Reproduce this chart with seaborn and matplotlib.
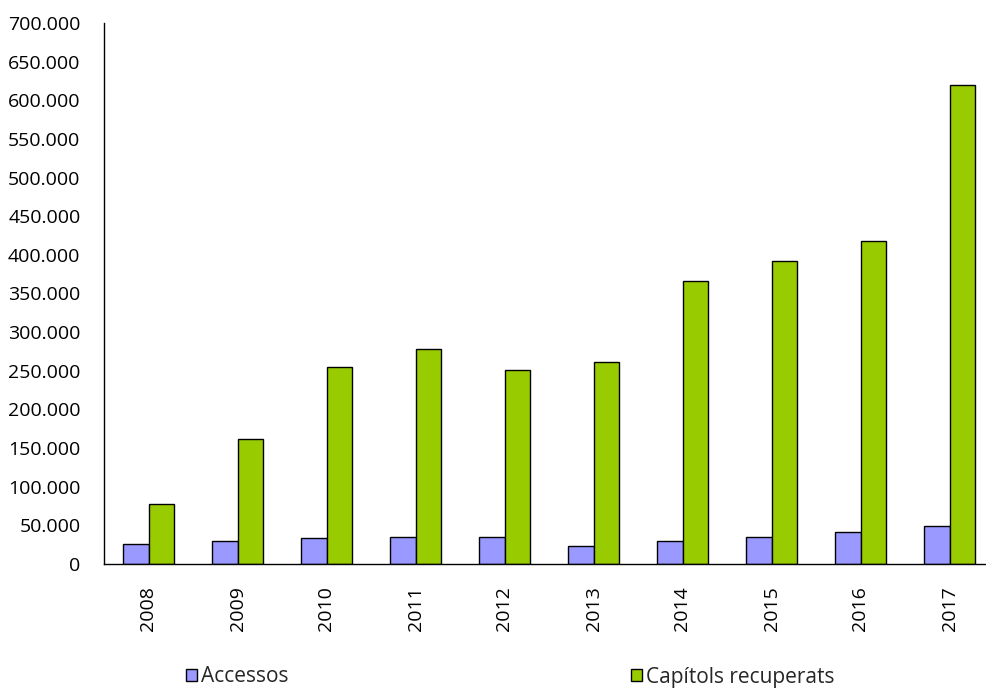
import matplotlib
matplotlib.use("Agg")
import matplotlib.pyplot as plt
from matplotlib.ticker import FuncFormatter, MultipleLocator
import seaborn as sns
import pandas as pd

# values
years = ['2008', '2009', '2010', '2011', '2012', '2013', '2014', '2015', '2016', '2017']
accessos = [25500, 29500, 34000, 35000, 35000, 23000, 29500, 35000, 41500, 49000]
capitols = [77500, 162000, 254500, 278000, 250500, 261000, 366000, 392000, 417500, 620000]
series_names = ['Accessos', 'Capítols recuperats']
colors = ['#9999FF', '#99CC00']

df = pd.DataFrame({
  'year': years * 2,
  'value': accessos + capitols,
  'series': [series_names[0]] * len(years) + [series_names[1]] * len(years),
})

sns.set_style('white')
plt.rcParams['font.family'] = ['Open Sans', 'DejaVu Sans']

fig = plt.figure(figsize=(9.87, 6.88), dpi=100)
ax = fig.add_axes([104 / 987, 124 / 688, 890 / 987, 541 / 688])

sns.barplot(data=df, x='year', y='value', hue='series', palette=colors,
            width=0.575, gap=0, edgecolor='black', linewidth=1, ax=ax,
            saturation=1)

ax.set_ylim(0, 700000)
ax.set_xlim(-0.5, len(years) - 0.5)
ax.yaxis.set_major_locator(MultipleLocator(50000))
ax.yaxis.set_major_formatter(FuncFormatter(lambda v, p: f'{int(v):,}'.replace(',', '.')))
ax.set_xlabel('')
ax.set_ylabel('')
ax.tick_params(axis='both', length=0, labelsize=14, colors='black')
ax.tick_params(axis='y', pad=17)
ax.tick_params(axis='x', pad=16)
for lab in ax.get_xticklabels():
  lab.set_rotation(90)
for side in ['top', 'right']:
  ax.spines[side].set_visible(False)
for side in ['left', 'bottom']:
  ax.spines[side].set_color('black')
  ax.spines[side].set_linewidth(1)

handles, labels = ax.get_legend_handles_labels()
ax.get_legend().remove()
legend_x = [186 / 987, 631 / 987]
for h, l, lx in zip(handles, labels, legend_x):
  fig.legend(handles=[h], labels=[l], loc='center left', bbox_to_anchor=(lx, 11 / 688),
             frameon=False, borderpad=0, borderaxespad=0, fontsize=15,
             handlelength=0.55, handleheight=0.55, handletextpad=0.15)

fig.savefig('out.png', dpi=100)
